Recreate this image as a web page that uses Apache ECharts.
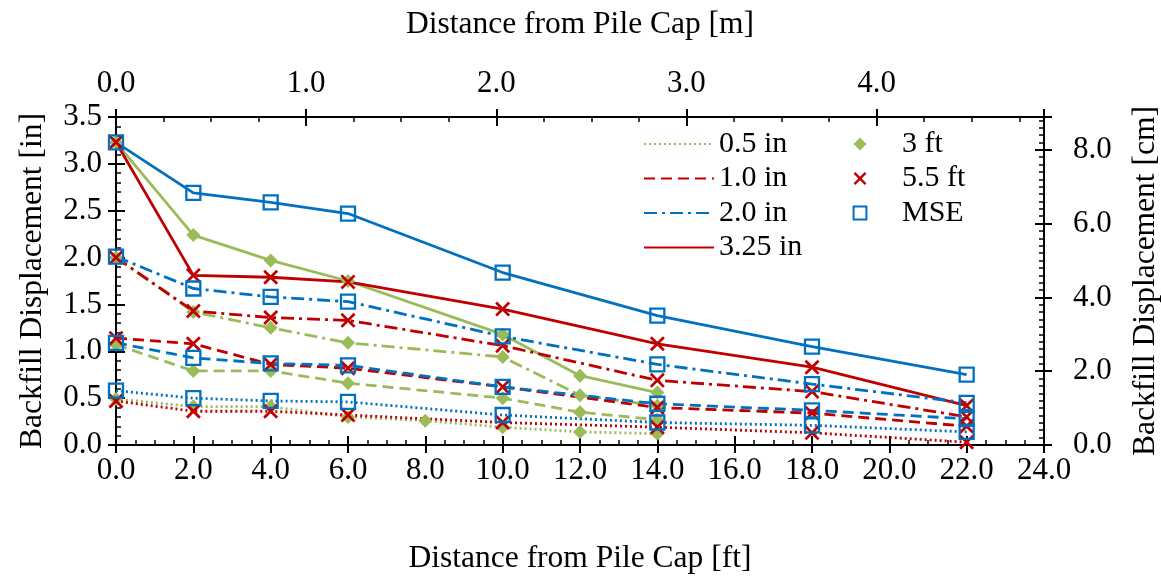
<!DOCTYPE html>
<html>
<head>
<meta charset="utf-8">
<script src="https://cdn.jsdelivr.net/npm/echarts@6/dist/echarts.min.js"></script>
<style>
html,body{margin:0;padding:0;background:#fff;}
#c{width:1161px;height:579px;}
</style>
</head>
<body>
<div id="c"></div>
<script>
// ---- Data (distance in ft, displacement in inches) ----
const xMSE = [0, 2, 4, 6, 10, 14, 18, 22];
const x55 = [0, 2, 4, 6, 10, 14, 18, 22];
const x3a = [0, 2, 4, 6, 8, 10, 12, 14];   // 3 ft, 0.5 in
const x3 = [0, 2, 4, 6, 10, 12, 14];       // 3 ft, other levels

const ft3_05 = [0.49, 0.41, 0.41, 0.30, 0.26, 0.19, 0.14, 0.12];
const ft3_10 = [1.07, 0.79, 0.79, 0.66, 0.50, 0.35, 0.27];
const ft3_20 = [2.00, 1.42, 1.25, 1.09, 0.94, 0.53, 0.42];
const ft3_325 = [3.23, 2.24, 1.97, 1.75, 1.18, 0.74, 0.56];

const ft55_05 = [0.47, 0.36, 0.36, 0.32, 0.24, 0.19, 0.13, 0.03];
const ft55_10 = [1.14, 1.08, 0.86, 0.82, 0.62, 0.40, 0.34, 0.20];
const ft55_20 = [2.00, 1.43, 1.36, 1.33, 1.06, 0.69, 0.57, 0.30];
const ft55_325 = [3.23, 1.81, 1.79, 1.74, 1.45, 1.08, 0.83, 0.42];

const mse_05 = [0.58, 0.50, 0.47, 0.46, 0.32, 0.24, 0.21, 0.14];
const mse_10 = [1.09, 0.93, 0.87, 0.85, 0.62, 0.44, 0.37, 0.28];
const mse_20 = [2.01, 1.67, 1.58, 1.53, 1.16, 0.86, 0.65, 0.45];
const mse_325 = [3.23, 2.69, 2.59, 2.47, 1.84, 1.38, 1.05, 0.75];

const dispNames = ['0.5 in', '1.0 in', '2.0 in', '3.25 in'];
const wallNames = ['3 ft', '5.5 ft', 'MSE'];

// ---- Styles ----
const GREEN = '#9BBB59', RED = '#C00000', BLUE = '#0070C0';
const FONT = 'Liberation Serif';
const XPATH = 'path://M1.8,0 L7,5.2 L12.2,0 L14,1.8 L8.8,7 L14,12.2 L12.2,14 L7,8.8 L1.8,14 L0,12.2 L5.2,7 L0,1.8 Z';
const dash = [[2, 3], [11, 6], [13, 5, 3, 5], 'solid'];
const legendLineColors = [GREEN, RED, BLUE, RED];

const walls = [
  {name: '3 ft', color: GREEN, symbol: 'diamond', size: 14, fill: GREEN, border: null,
   sets: [[x3a, ft3_05], [x3, ft3_10], [x3, ft3_20], [x3, ft3_325]]},
  {name: '5.5 ft', color: RED, symbol: XPATH, size: 15, fill: RED, border: null,
   sets: [[x55, ft55_05], [x55, ft55_10], [x55, ft55_20], [x55, ft55_325]]},
  {name: 'MSE', color: BLUE, symbol: 'rect', size: 14, fill: 'rgba(255,255,255,0)', border: BLUE,
   sets: [[xMSE, mse_05], [xMSE, mse_10], [xMSE, mse_20], [xMSE, mse_325]]}
];

const zip = (xs, ys) => xs.map((x, i) => [x, ys[i]]);

const series = [];
walls.forEach(w => {
  w.sets.forEach((s, k) => {
    series.push({
      type: 'line', name: w.name + ' ' + dispNames[k],
      xAxisIndex: 0, yAxisIndex: 0,
      data: zip(s[0], s[1]),
      symbol: w.symbol, symbolSize: w.size, showAllSymbol: true,
      lineStyle: {color: w.color, width: 2.8, type: dash[k]},
      itemStyle: w.border ? {color: w.fill, borderColor: w.border, borderWidth: 2.3}
                          : {color: w.fill, borderWidth: 0},
      emphasis: {disabled: true}, animation: false
    });
  });
});
// legend-only series
dispNames.forEach((n, k) => {
  series.push({type: 'line', name: n, data: [], symbol: 'none', symbolSize: 0,
    lineStyle: {color: legendLineColors[k], width: 2.8, type: dash[k]},
    itemStyle: {color: 'rgba(0,0,0,0)', opacity: 0}});
});
walls.forEach(w => {
  series.push({type: 'line', name: w.name, data: [], symbol: w.symbol,
    lineStyle: {color: 'rgba(0,0,0,0)', width: 1},
    itemStyle: w.border ? {color: w.fill, borderColor: w.border, borderWidth: 2.3}
                        : {color: w.fill, borderWidth: 0}});
});

const lbl = {color: '#000', fontFamily: FONT, fontSize: 31};
const nameStyle = {color: '#000', fontFamily: FONT, fontSize: 31.5};
const axLine = {show: true, onZero: false, lineStyle: {color: '#000', width: 2}};
const noLine = {show: false, onZero: false};
const tickIn = {show: true, inside: true, length: 9, lineStyle: {color: '#000', width: 2}};
const tickOut = {show: true, inside: false, length: 8, lineStyle: {color: '#000', width: 2}};
const minor = n => ({show: true, splitNumber: n, length: 5, lineStyle: {color: '#000', width: 1.5}});
const fmtInt = v => Number.isInteger(Math.round(v * 1000) / 1000) ? v.toFixed(1) : '';
const fmtEven = v => (Math.abs(v / 2 - Math.round(v / 2)) < 1e-6) ? v.toFixed(1) : '';

const gridRect = {left: 116, right: 117, top: 117, bottom: 134, containLabel: false, outerBoundsMode: 'none'};
const M_MAX = 4.88, CM_MAX = 8.89;
const legendText = {color: '#000', fontFamily: FONT, fontSize: 30, lineHeight: 30};

const option = {
  backgroundColor: '#fff',
  animation: false,
  grid: [Object.assign({}, gridRect), Object.assign({}, gridRect)],
  legend: [
    {data: dispNames, orient: 'vertical', left: 643, top: 129, padding: 0, itemWidth: 70, itemHeight: 14, itemGap: 4.5,
     itemStyle: {opacity: 0}, textStyle: legendText, selectedMode: false},
    {data: wallNames, orient: 'vertical', left: 822, top: 129, padding: 0, itemWidth: 74, itemHeight: 16, itemGap: 4.5,
     textStyle: legendText, selectedMode: false}
  ],
  xAxis: [
    {type: 'value', gridIndex: 0, position: 'bottom', min: 0, max: 24, interval: 2,
     axisLine: axLine, axisTick: tickIn, minorTick: minor(4), splitLine: {show: false},
     axisLabel: Object.assign({margin: 10, formatter: v => v.toFixed(1)}, lbl),
     name: 'Distance from Pile Cap [ft]', nameLocation: 'middle', nameGap: 98, nameTextStyle: nameStyle},
    {type: 'value', gridIndex: 0, position: 'top', min: 0, max: M_MAX, interval: 1,
     axisLine: axLine, axisTick: tickIn, minorTick: minor(4), splitLine: {show: false},
     axisLabel: Object.assign({margin: 18, formatter: fmtInt}, lbl),
     name: 'Distance from Pile Cap [m]', nameLocation: 'middle', nameGap: 76, nameTextStyle: nameStyle},
    {type: 'value', gridIndex: 1, position: 'bottom', min: 0, max: 24, interval: 2,
     axisLine: noLine, axisTick: tickOut, axisLabel: {show: false}, splitLine: {show: false}},
    {type: 'value', gridIndex: 1, position: 'top', min: 0, max: M_MAX, interval: 1,
     axisLine: noLine, axisTick: tickOut, axisLabel: {show: false}, splitLine: {show: false}}
  ],
  yAxis: [
    {type: 'value', gridIndex: 0, position: 'left', min: 0, max: 3.5, interval: 0.5,
     axisLine: axLine, axisTick: tickIn, minorTick: minor(5), splitLine: {show: false},
     axisLabel: Object.assign({margin: 14, formatter: v => v.toFixed(1)}, lbl),
     name: 'Backfill Displacement [in]', nameLocation: 'middle', nameGap: 67, nameTextStyle: nameStyle},
    {type: 'value', gridIndex: 0, position: 'right', min: 0, max: CM_MAX, interval: 2,
     axisLine: axLine, axisTick: tickIn, minorTick: minor(10), splitLine: {show: false},
     axisLabel: Object.assign({margin: 29, formatter: fmtEven}, lbl),
     name: 'Backfill Displacement [cm]', nameLocation: 'middle', nameGap: 86, nameTextStyle: nameStyle},
    {type: 'value', gridIndex: 1, position: 'left', min: 0, max: 3.5, interval: 0.5,
     axisLine: noLine, axisTick: tickOut, axisLabel: {show: false}, splitLine: {show: false}},
    {type: 'value', gridIndex: 1, position: 'right', min: 0, max: CM_MAX, interval: 2,
     axisLine: noLine, axisTick: tickOut, axisLabel: {show: false}, splitLine: {show: false}}
  ],
  series: series
};

const chart = echarts.init(document.getElementById('c'), null, {renderer: 'canvas'});
chart.setOption(option);
</script>
</body>
</html>
